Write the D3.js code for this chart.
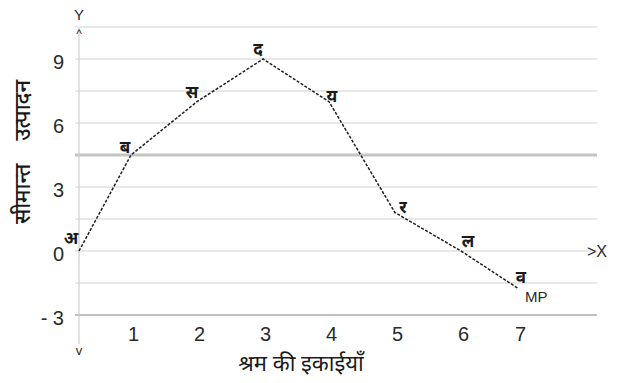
<!DOCTYPE html>
<html>
<head>
<meta charset="utf-8">
<script src="https://cdn.jsdelivr.net/npm/d3@7"></script>
<style>
  html, body { margin: 0; padding: 0; background: #fff; }
  svg { display: block; }
  .num { font-family: "Liberation Sans", Arial, sans-serif; fill: #2a2a2a; }
  .hin { font-family: "Noto Sans Devanagari", "Lohit Devanagari", "FreeSans", "Noto Sans", sans-serif; fill: #1a1a1a; white-space: pre; }
</style>
</head>
<body>
<script>
// Marginal product of labour
const labourUnits = [0, 1, 2, 3, 4, 5, 6, 7];
const marginalProduct = [0, 4.5, 7, 9, 7, 1.8, 0, -1.75];
const pointNames = ["अ", "ब", "स", "द", "य", "र", "ल", "व"];
const xTickValues = [1, 2, 3, 4, 5, 6, 7];
const yTickValues = [-3, 0, 3, 6, 9];
const yTickLabels = ["- 3", "0", "3", "6", "9"];
const gridValues = [-3, -1.5, 0, 1.5, 3, 4.5, 6, 7.5, 9, 10.5];
const yTitle = "सीमान्त    उत्पादन";
const xTitle = "श्रम की इकाईयाँ";
const curveName = "MP";

// label placement around each point (pixels)
const nameOffsets = [[-8, -13], [-6, -8], [-5, -10], [-5, -10], [3, -6], [8, -6], [7, -10], [3, -11]];

const W = 634, H = 383;
const svg = d3.select("body").append("svg").attr("width", W).attr("height", H);

const x = d3.scaleLinear().domain([0, 1, 6, 7]).range([79, 131, 461, 518]);
const y = d3.scaleLinear().domain([-3, 10.5]).range([315, 27]);

// horizontal grid
svg.append("g").selectAll("line").data(gridValues).join("line")
  .attr("x1", 75).attr("x2", 597)
  .attr("y1", d => y(d)).attr("y2", d => y(d))
  .attr("stroke", d => d === 4.5 ? "#c4c4c4" : (d === -3 ? "#c0c0c0" : "#d2d2d2"))
  .attr("stroke-width", d => d === 4.5 ? 3 : (d === -3 ? 2 : 1.2));

// vertical axis
svg.append("line").attr("x1", x(0)).attr("x2", x(0)).attr("y1", 28).attr("y2", 344)
  .attr("stroke", "#cfcfcf").attr("stroke-width", 1.2);
svg.append("text").attr("class", "num").attr("x", x(0)).attr("y", 20)
  .attr("text-anchor", "middle").attr("font-size", 15).text("Y");
svg.append("text").attr("class", "num").attr("x", x(0)).attr("y", 38)
  .attr("text-anchor", "middle").attr("font-size", 12).text("^");
svg.append("text").attr("class", "num").attr("x", x(0)).attr("y", 355)
  .attr("text-anchor", "middle").attr("font-size", 13).text("v");
svg.append("text").attr("class", "num").attr("x", 587).attr("y", y(0) + 6)
  .attr("font-size", 16).text(">X");

// tick labels
const yAxis = svg.append("g").attr("transform", "translate(64,0)")
  .call(d3.axisLeft(y).tickValues(yTickValues).tickSize(0).tickPadding(0)
    .tickFormat((d, i) => yTickLabels[i]));
yAxis.select(".domain").remove();
yAxis.selectAll("text").attr("class", "num").attr("font-size", 20).attr("dy", "0.45em");

const xAxis = svg.append("g").attr("transform", "translate(2,327)")
  .call(d3.axisBottom(x).tickValues(xTickValues).tickSize(0).tickPadding(0)
    .tickFormat(d3.format("d")));
xAxis.select(".domain").remove();
xAxis.selectAll("text").attr("class", "num").attr("font-size", 20).attr("dy", "0.7em");

// MP curve
const line = d3.line().x((d, i) => x(labourUnits[i])).y(d => y(d));
svg.append("path").datum(marginalProduct).attr("d", line)
  .attr("fill", "none").attr("stroke", "#1e1e1e").attr("stroke-width", 1.5)
  .attr("stroke-dasharray", "3,1.6");

// point names
svg.append("g").selectAll("text").data(marginalProduct).join("text")
  .attr("class", "hin")
  .attr("x", (d, i) => x(labourUnits[i]) + nameOffsets[i][0])
  .attr("y", (d, i) => y(d) + nameOffsets[i][1])
  .attr("dy", "0.35em").attr("text-anchor", "middle")
  .attr("font-size", 17).attr("font-weight", "bold")
  .text((d, i) => pointNames[i]);

const last = labourUnits.length - 1;
svg.append("text").attr("class", "num")
  .attr("x", x(labourUnits[last]) + 7).attr("y", y(marginalProduct[last]) + 14)
  .attr("font-size", 15).text(curveName);

// axis titles
svg.append("text").attr("class", "hin")
  .attr("transform", "translate(22,152) rotate(-90)")
  .attr("text-anchor", "middle").attr("dy", "0.35em")
  .attr("font-size", 22).attr("font-weight", 500).text(yTitle);
svg.append("text").attr("class", "hin")
  .attr("x", 301).attr("y", 363).attr("dy", "0.35em")
  .attr("text-anchor", "middle").attr("font-size", 22).text(xTitle);
</script>
</body>
</html>
